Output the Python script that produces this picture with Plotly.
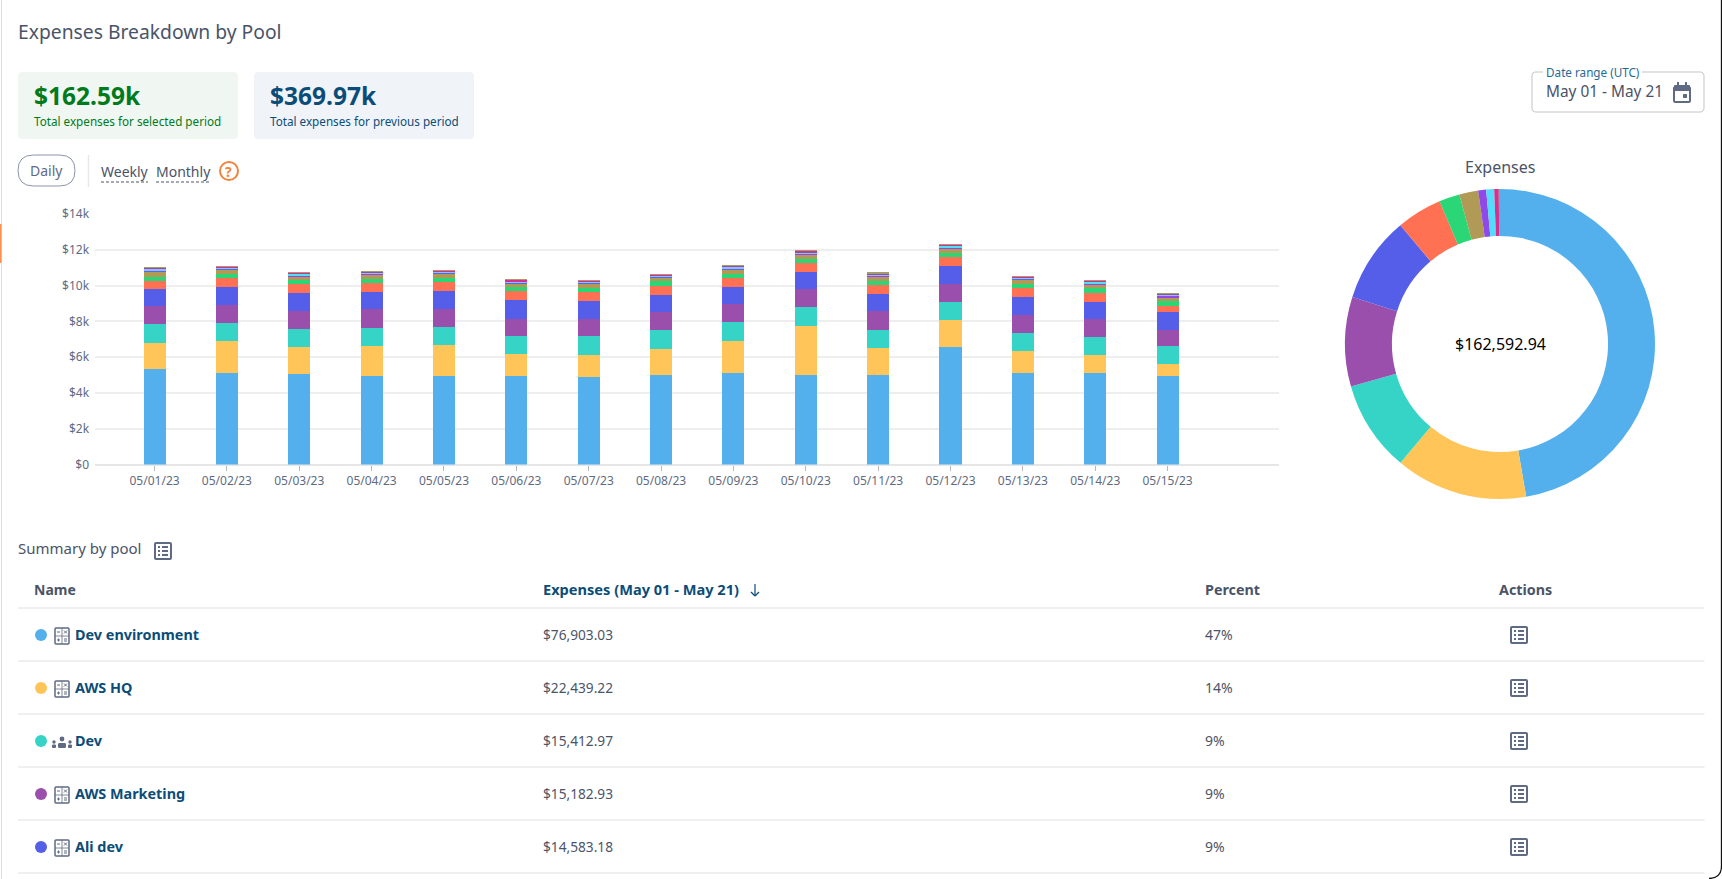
import plotly.graph_objects as go

W, H = 1722, 879
FONT = "Noto Sans"

# ---------- data ----------
dates = ["05/01/23","05/02/23","05/03/23","05/04/23","05/05/23","05/06/23","05/07/23","05/08/23",
         "05/09/23","05/10/23","05/11/23","05/12/23","05/13/23","05/14/23","05/15/23"]
dev_environment = [5313,5089,5033,4921,4921,4921,4865,4977,5089,4977,4977,6543,5089,5089,4921]
aws_hq = [1454,1789,1510,1678,1734,1230,1230,1454,1789,2740,1510,1510,1230,1007,671]
dev = [1062,1007,1007,1007,1007,1007,1062,1062,1062,1062,1007,1007,1007,1007,1007]
aws_marketing = [1007,1007,1007,1062,1007,988,988,1007,1007,1007,1062,1007,1007,1007,895]
ali_dev = [951,1007,1007,951,1007,1025,969,951,951,951,951,1007,1007,951,1007]
pool_6 = [485,503,503,503,503,503,503,503,503,541,503,503,503,503,336]
pool_7 = [224,224,224,224,224,224,224,280,224,224,224,224,224,280,280]
pool_8 = [298,224,224,224,224,224,224,168,224,224,224,224,224,168,168]
pool_9 = [56,112,56,112,112,37,112,112,112,56,112,112,112,112,112]
pool_10 = [93,75,93,56,56,93,56,56,93,93,75,75,56,93,112]
pool_11 = [47,28,65,47,47,83,37,56,56,65,47,56,47,47,28]
pool_12 = [9,9,10,9,9,10,28,9,9,10,28,9,28,9,28]

bar_series = [dev_environment, aws_hq, dev, aws_marketing, ali_dev, pool_6, pool_7, pool_8,
              pool_9, pool_10, pool_11, pool_12]
series_names = ["Dev environment","AWS HQ","Dev","AWS Marketing","Ali dev","Pool 6","Pool 7","Pool 8",
                "Pool 9","Pool 10","Pool 11","Pool 12"]
colors = ["#54b0ed","#ffc558","#35d4c7","#9b4fad","#555ee8","#ff7152","#2bd676","#b09a55",
          "#8f49e8","#54dcff","#d6308e","#a89a70"]
pie_values = [76903.03,22439.22,15412.97,15182.93,14583.18,7700,3500,3200,1350,1350,770,201.61]

y_ticks = [0,2000,4000,6000,8000,10000,12000,14000]
y_tick_labels = ["$0","$2k","$4k","$6k","$8k","$10k","$12k","$14k"]

table_names = ["Dev environment","AWS HQ","Dev","AWS Marketing","Ali dev"]
table_expenses = ["$76,903.03","$22,439.22","$15,412.97","$15,182.93","$14,583.18"]
table_percent = ["47%","14%","9%","9%","9%"]

# ---------- helpers ----------
def fx(x): return x / W
def fy(y): return 1 - y / H

shapes, annos = [], []
def text(x, y, s, size=14, color="#4a5468", anchor="left", bold=False, bg=None, font=FONT):
    d = dict(x=fx(x), y=fy(y), xref="paper", yref="paper", text=f"<b>{s}</b>" if bold else s,
             showarrow=False, xanchor=anchor, yanchor="middle",
             font=dict(family=font, size=size, color=color), borderpad=0, borderwidth=0)
    if bg: d["bgcolor"] = bg
    annos.append(d)

def P(x, y): return f"{fx(x):.6f},{fy(y):.6f}"
def rrect_path(x0, y0, x1, y1, r):
    return (f"M{P(x0+r,y0)} L{P(x1-r,y0)} Q{P(x1,y0)} {P(x1,y0+r)} L{P(x1,y1-r)} Q{P(x1,y1)} {P(x1-r,y1)} "
            f"L{P(x0+r,y1)} Q{P(x0,y1)} {P(x0,y1-r)} L{P(x0,y0+r)} Q{P(x0,y0)} {P(x0+r,y0)} Z")
def rrect(x0, y0, x1, y1, r, fill=None, line=None, w=1):
    shapes.append(dict(type="path", xref="paper", yref="paper", path=rrect_path(x0,y0,x1,y1,r),
                       fillcolor=fill or "rgba(0,0,0,0)", line=dict(color=line or "rgba(0,0,0,0)", width=w if line else 0)))
def seg(x0, y0, x1, y1, color, w=1, dash=None):
    shapes.append(dict(type="line", xref="paper", yref="paper", x0=fx(x0), y0=fy(y0), x1=fx(x1), y1=fy(y1),
                       line=dict(color=color, width=w, dash=dash or "solid")))
def circle(cx, cy, r, fill=None, line=None, w=1):
    shapes.append(dict(type="circle", xref="paper", yref="paper", x0=fx(cx-r), x1=fx(cx+r), y0=fy(cy-r), y1=fy(cy+r),
                       fillcolor=fill or "rgba(0,0,0,0)", line=dict(color=line or "rgba(0,0,0,0)", width=w if line else 0)))

ICON = "#5f6b82"
def list_icon(cx, cy):
    rrect(cx-8, cy-8, cx+8, cy+8, 1, line=ICON, w=2)
    for dy in (-4, 0, 4):
        seg(cx-5, cy+dy, cx-3, cy+dy, ICON, 2)
        seg(cx-1, cy+dy, cx+5, cy+dy, ICON, 2)

def calc_icon(cx, cy):
    rrect(cx-7, cy-8, cx+7, cy+8, 1, line=ICON, w=1.5)
    seg(cx, cy-8, cx, cy+8, ICON, 0.8); seg(cx-7, cy, cx+7, cy, ICON, 0.8)
    seg(cx-5, cy-4, cx-2, cy-4, ICON, 1)
    seg(cx+2, cy-5.5, cx+5, cy-2.5, ICON, 1); seg(cx+5, cy-5.5, cx+2, cy-2.5, ICON, 1)
    seg(cx-5, cy+4, cx-2, cy+4, ICON, 1); seg(cx-3.5, cy+2.5, cx-3.5, cy+5.5, ICON, 1)
    seg(cx+2, cy+3, cx+5, cy+3, ICON, 1); seg(cx+2, cy+5, cx+5, cy+5, ICON, 1)

def team_icon(cx, cy):
    circle(cx, cy-3, 2.4, fill=ICON)
    rrect(cx-4, cy+1, cx+4, cy+6, 1.5, fill=ICON)
    for sx in (-8, 8):
        circle(cx+sx, cy, 1.7, fill=ICON)
        rrect(cx+sx-2, cy+2.5, cx+sx+2, cy+6, 1, fill=ICON)

# ---------- page chrome ----------
seg(1.5, 0, 1.5, 879, "#dcdcdc", 1)
seg(0.7, 224, 0.7, 263, "#ff8f4a", 1.5)
shapes.append(dict(type="path", xref="paper", yref="paper",
                   path=f"M{P(1721.5,0)} L{P(1721.5,866)} Q{P(1721.5,878)} {P(1709,878.5)}",
                   fillcolor="rgba(0,0,0,0)", line=dict(color="#111111", width=1.3)))
text(18, 32, "Expenses Breakdown by Pool", size=19.3)

rrect(18, 72, 238, 139, 4, fill="#f0f7f2")
rrect(254, 72, 474, 139, 4, fill="#f0f4f8")
text(34, 96, "$162.59k", size=24.5, color="#007a1c", bold=True)
text(34, 121, "Total expenses for selected period", size=11.7, color="#007a1c")
text(270, 96, "$369.97k", size=24.5, color="#0b4d78", bold=True)
text(270, 121, "Total expenses for previous period", size=11.7, color="#0b4d78")

rrect(18, 155, 75, 186, 15.5, line="#8a94a8", w=1)
text(46.5, 170, "Daily", size=14, color="#5f6b82", anchor="center")
seg(88.5, 155, 88.5, 187, "#e8e8e8", 1.5)
text(101, 171, "Weekly", size=14)
text(156, 171, "Monthly", size=14)
seg(101, 182, 148, 182, "#4a5468", 1, "3px,2px")
seg(156, 182, 209, 182, "#4a5468", 1, "3px,2px")
circle(229, 171, 9, line="#f0843c", w=2)
text(229, 171, "?", size=14, color="#f0843c", anchor="center", bold=True)

rrect(1532, 72, 1704, 112, 4, line="#c4c4c4", w=1)
text(1592, 72, "&nbsp;Date range (UTC)&nbsp;", size=11.7, color="#1f6a94", anchor="center", bg="#ffffff")
text(1546, 92, "May 01 - May 21", size=15.4)
rrect(1674, 87, 1690, 102, 1.5, line=ICON, w=2)
rrect(1674, 85, 1690, 91, 1, fill=ICON)
seg(1678, 82, 1678, 86, ICON, 2); seg(1686, 82, 1686, 86, ICON, 2)
rrect(1683, 94, 1687, 98, 0.5, fill=ICON)

# ---------- table ----------
text(18, 548, "Summary by pool", size=15)
list_icon(163, 551)
text(34, 589, "Name", size=14, bold=True)
text(543, 589, "Expenses (May 01 - May 21)", size=14.6, color="#0b4d78", bold=True)
seg(755, 584, 755, 596, "#0b4d78", 1.2)
seg(751, 592, 755, 596, "#0b4d78", 1.2); seg(759, 592, 755, 596, "#0b4d78", 1.2)
text(1205, 589, "Percent", size=14.3, bold=True)
text(1499, 589, "Actions", size=14.3, bold=True)
seg(18, 608, 1704.5, 608, "#e0e0e0", 1)
for i, name in enumerate(table_names):
    yc = 635 + i * 53
    circle(41, yc, 6, fill=colors[i])
    if name == "Dev":
        team_icon(62, yc + 1)
    else:
        calc_icon(62, yc + 1)
    text(75, yc - 0.5, name, size=14.4, color="#0b4d78", bold=True)
    text(543, yc - 1, table_expenses[i], size=13.7)
    text(1205, yc - 1, table_percent[i], size=14)
    list_icon(1519, yc)
    seg(18, yc + 26, 1704.5, yc + 26, "#e0e0e0", 1)

# ---------- pie text ----------
text(1500, 167, "Expenses", size=16, anchor="center")
text(1500, 344, "$162,592.94", size=16, color="#000000", anchor="center")

# ---------- figure ----------
fig = go.Figure()
for name, vals, c in zip(series_names, bar_series, colors):
    fig.add_trace(go.Bar(x=dates, y=vals, name=name, marker=dict(color=c, line=dict(width=0)),
                         width=0.305, showlegend=False))
fig.add_trace(go.Pie(labels=series_names, values=pie_values, hole=0.697, sort=False, direction="clockwise",
                     rotation=0, textinfo="none", showlegend=False,
                     marker=dict(colors=colors, line=dict(width=0)),
                     domain=dict(x=[fx(1345), fx(1655)], y=[fy(499), fy(189)])))
fig.update_layout(
    width=W, height=H, margin=dict(l=0, r=0, t=0, b=0, pad=0, autoexpand=False), autosize=False,
    paper_bgcolor="#ffffff", plot_bgcolor="#ffffff", barmode="stack", showlegend=False,
    font=dict(family=FONT, size=12, color="#5f6b82"),
    xaxis=dict(type="category", domain=[fx(94.5), fx(1279)], range=[-0.83, 15.54], showgrid=False,
               ticks="outside", ticklen=5, tickcolor="#b8b8b8", tickwidth=1, zeroline=False, showline=False,
               tickfont=dict(size=12, color="#5f6b82", family=FONT)),
    yaxis=dict(domain=[fy(464.5), fy(214)], range=[0, 14000], tickvals=y_ticks, ticktext=y_tick_labels,
               gridcolor="#eeeeee", gridwidth=1.5, zeroline=True, zerolinecolor="#e6e6e6", zerolinewidth=1.5,
               showline=False, ticks="outside", ticklen=2, tickcolor="rgba(0,0,0,0)",
               tickfont=dict(size=12, color="#5f6b82", family=FONT)),
    shapes=shapes, annotations=annos,
)
fig.write_html("out.html", config={"displayModeBar": False},
               post_script="document.body.style.margin='0';document.body.style.overflow='hidden';")
